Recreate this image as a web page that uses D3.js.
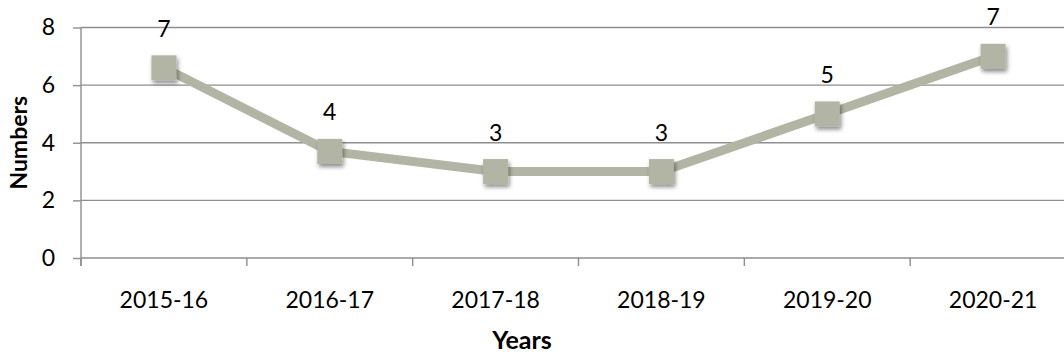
<!DOCTYPE html>
<html>
<head>
<meta charset="utf-8">
<script src="https://cdn.jsdelivr.net/npm/d3@7"></script>
<style>
  html, body { margin: 0; padding: 0; background: #fff; overflow: hidden; }
  svg { display: block; font-family: Lato, "Open Sans", sans-serif; }
</style>
</head>
<body>
<svg id="chart" width="1064" height="356"></svg>
<script>
// Yearly counts
const years = ["2015-16", "2016-17", "2017-18", "2018-19", "2019-20", "2020-21"];
const counts = [6.6, 3.7, 3, 3, 5, 7];
const yTicks = [0, 2, 4, 6, 8];

const svg = d3.select("#chart");
const plotLeft = 81, plotRight = 1076, plotTop = 27.5, plotBottom = 258;

const x = d3.scaleBand().domain(years).range([plotLeft, plotRight]);
const y = d3.scaleLinear().domain([0, 8]).range([plotBottom, plotTop]);

const gridColor = "#8e8e8e";
const seriesColor = "#b3b5a4";

// shadow for markers
const defs = svg.append("defs");
const f = defs.append("filter").attr("id", "shadow")
  .attr("x", "-50%").attr("y", "-50%").attr("width", "200%").attr("height", "200%");
f.append("feDropShadow").attr("dx", 1.5).attr("dy", 3).attr("stdDeviation", 2)
  .attr("flood-color", "#000").attr("flood-opacity", 0.45);

// horizontal gridlines
svg.append("g").selectAll("line").data(yTicks).join("line")
  .attr("x1", plotLeft).attr("x2", plotRight)
  .attr("y1", d => y(d)).attr("y2", d => y(d))
  .attr("stroke", gridColor).attr("stroke-width", 1.4);

// y axis
const yAxis = svg.append("g").attr("transform", `translate(${plotLeft},0)`)
  .call(d3.axisLeft(y).tickValues(yTicks).tickSize(8).tickPadding(18).tickFormat(d3.format("d")));
yAxis.select(".domain").attr("stroke", gridColor).attr("stroke-width", 1.4)
  .attr("d", `M0,${plotTop}V${plotBottom + 8}`);
yAxis.selectAll(".tick line").attr("stroke", gridColor).attr("stroke-width", 1.4);
yAxis.selectAll(".tick text").attr("font-size", 23).attr("fill", "#000")
  .attr("font-family", "Lato, sans-serif");

// x axis
const xAxis = svg.append("g").attr("transform", `translate(0,${plotBottom})`)
  .call(d3.axisBottom(x).tickSize(0).tickPadding(34));
xAxis.select(".domain").remove();
xAxis.selectAll(".tick text").attr("font-size", 23).attr("fill", "#000")
  .attr("font-family", "Lato, sans-serif");
// category separators
const bounds = years.map(d => x(d)).concat([plotRight]);
svg.append("g").selectAll("line").data(bounds).join("line")
  .attr("x1", d => d).attr("x2", d => d)
  .attr("y1", plotBottom).attr("y2", plotBottom + 8)
  .attr("stroke", gridColor).attr("stroke-width", 1.4);

// axis titles
svg.append("text")
  .attr("transform", `translate(27,${(plotTop + plotBottom) / 2}) rotate(-90)`)
  .attr("text-anchor", "middle")
  .attr("font-size", 23).attr("font-weight", "bold")
  .text("Numbers");
svg.append("text")
  .attr("x", 522).attr("y", 349)
  .attr("text-anchor", "middle")
  .attr("font-size", 25).attr("font-weight", "bold")
  .text("Years");

const cx = d => x(d) + x.bandwidth() / 2;
const data = years.map((yr, i) => ({ yr, v: counts[i] }));

// series line
svg.append("path").datum(data)
  .attr("fill", "none").attr("stroke", seriesColor).attr("stroke-width", 9)
  .attr("stroke-linejoin", "round")
  .attr("d", d3.line().x(d => cx(d.yr)).y(d => y(d.v)));

// markers
const s = 25;
svg.append("g").selectAll("rect").data(data).join("rect")
  .attr("x", d => cx(d.yr) - s / 2).attr("y", d => y(d.v) - s / 2)
  .attr("width", s).attr("height", s)
  .attr("fill", seriesColor).attr("filter", "url(#shadow)");

// value labels
svg.append("g").selectAll("text").data(data).join("text")
  .attr("x", d => cx(d.yr)).attr("y", d => y(d.v) - 31)
  .attr("text-anchor", "middle")
  .attr("font-size", 23).attr("fill", "#000")
  .text(d => d3.format(".0f")(d.v));
</script>
</body>
</html>
